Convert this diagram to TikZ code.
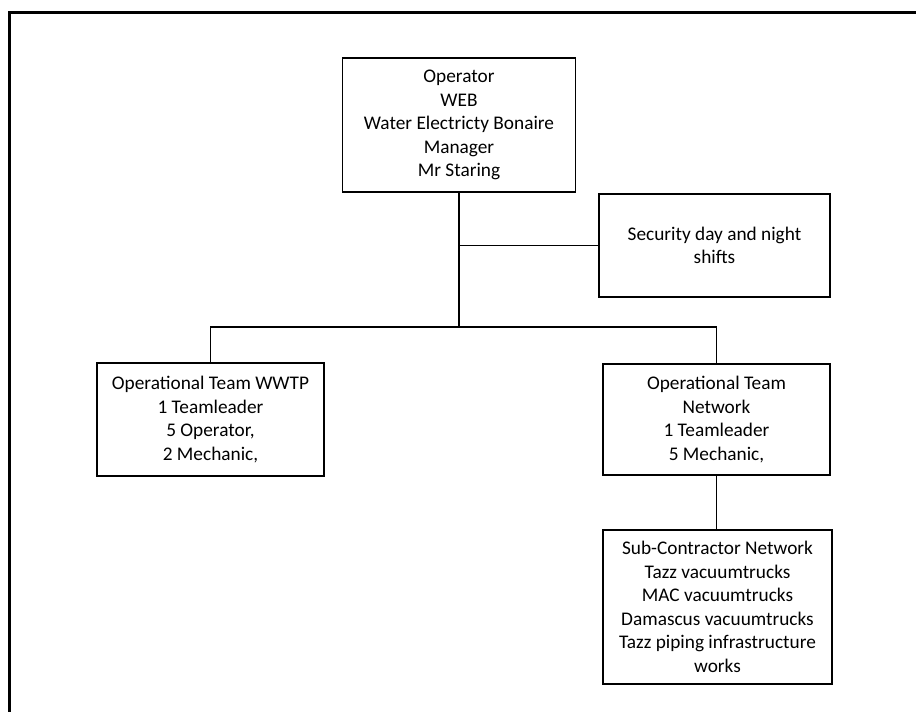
\documentclass[tikz,border=0pt]{standalone}
\usepackage{fontspec}
\setmainfont{Carlito}
\usetikzlibrary{positioning}

\tikzset{
  caixa/.style={draw, line width=1.4pt, align=center, inner sep=0pt,
    font=\fontsize{19.3}{23.5}\selectfont},
  ligacao/.style={line width=1.4pt},
}

\begin{document}
\begin{tikzpicture}[x=1pt,y=-1pt]
\useasboundingbox (0,0) rectangle (916,712);

% Moldura da página
\draw[line width=3pt] (9.5,712) -- (9.5,12) -- (916,12);

% Operador
\node[caixa, minimum width=232.5pt, minimum height=134pt] (op) at (459,125)
  {Operator\\WEB\\Water Electricty Bonaire\\Manager\\Mr Staring};

% Segurança
\node[caixa, minimum width=231pt, minimum height=103pt] (sec) at (714.5,245.5)
  {Security day and night\\shifts};

% Equipes operacionais
\node[caixa, minimum width=227pt, minimum height=113pt] (wwtp) at (210.5,419.5)
  {Operational Team WWTP\\1 Teamleader\\5 Operator,\\2 Mechanic,};
\node[caixa, minimum width=227pt, minimum height=111pt] (net) at (716.5,419.5)
  {Operational Team\\Network\\1 Teamleader\\5 Mechanic,};

% Subcontratada
\node[caixa, minimum width=229pt, minimum height=154pt] (sub) at (717.5,607)
  {Sub-Contractor Network\\Tazz vacuumtrucks\\MAC vacuumtrucks\\Damascus vacuumtrucks\\Tazz piping\ infrastructure\\works};

% Ligações
\coordinate (barra) at (459,327);
\draw[ligacao] (op.south) -- (barra);
\draw[ligacao] (op.south |- sec.west) -- (sec.west);
\draw[ligacao] (wwtp.north) -- (wwtp.north |- barra) -- (net.north |- barra) -- (net.north);
\draw[ligacao] (net.south) -- (net.south |- sub.north);

\end{tikzpicture}
\end{document}
